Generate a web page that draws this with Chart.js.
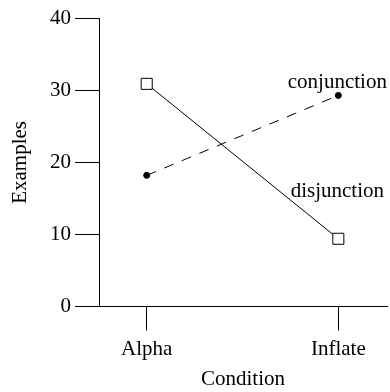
<!DOCTYPE html>
<html>
<head>
<meta charset="utf-8">
<script src="https://cdn.jsdelivr.net/npm/chart.js@4/dist/chart.umd.min.js"></script>
<style>
  html, body { margin: 0; padding: 0; background: #fff; }
  #wrap { width: 390px; height: 392px; }
</style>
</head>
<body>
<div id="wrap"><canvas id="c" width="390" height="392"></canvas></div>
<script>
const categories = ['Alpha', 'Inflate'];
const disjunction = [30.9, 9.4];
const conjunction = [18.2, 29.3];
const yTicks = [0, 10, 20, 30, 40];

const FONT = { family: '"Liberation Serif", "Times New Roman", serif', size: 21 };

const toPoints = arr => arr.map((v, i) => ({ x: i, y: v }));

const lineLabels = {
  id: 'lineLabels',
  afterDatasetsDraw(chart, args, opts) {
    const ctx = chart.ctx;
    ctx.save();
    ctx.font = `${FONT.size}px ${FONT.family}`;
    ctx.fillStyle = '#000';
    ctx.textAlign = 'center';
    ctx.textBaseline = 'alphabetic';
    chart.data.datasets.forEach((ds, i) => {
      const meta = chart.getDatasetMeta(i);
      const last = meta.data[meta.data.length - 1];
      const off = opts.offsets[ds.label] || 0;
      ctx.fillText(ds.label, last.x - 1, last.y + off);
    });
    ctx.restore();
  }
};

new Chart(document.getElementById('c'), {
  type: 'line',
  data: {
    datasets: [
      {
        label: 'disjunction',
        data: toPoints(disjunction),
        borderColor: '#000',
        borderWidth: 1,
        pointStyle: 'rect',
        pointRadius: 7.8,
        pointBackgroundColor: '#fff',
        pointBorderColor: '#000',
        pointBorderWidth: 1,
        tension: 0
      },
      {
        label: 'conjunction',
        data: toPoints(conjunction),
        borderColor: '#000',
        borderWidth: 1,
        borderDash: [10, 9],
        pointStyle: 'circle',
        pointRadius: 3,
        pointBackgroundColor: '#000',
        pointBorderColor: '#000',
        pointBorderWidth: 1,
        tension: 0
      }
    ]
  },
  options: {
    responsive: false,
    animation: false,
    layout: { autoPadding: false, padding: { top: 18.3, right: 3, bottom: 0, left: 0 } },
    plugins: {
      legend: { display: false },
      tooltip: { enabled: false },
      lineLabels: { offsets: { conjunction: -7.4, disjunction: -41.6 } }
    },
    scales: {
      x: {
        type: 'linear',
        min: -0.249,
        max: 1.254,
        afterBuildTicks: s => { s.ticks = categories.map((c, i) => ({ value: i })); },
        afterFit: s => { s.height = 85.5; },
        ticks: {
          font: FONT,
          color: '#000',
          padding: 6,
          maxRotation: 0,
          callback: v => categories[v]
        },
        grid: { display: true, drawOnChartArea: false, drawTicks: true, tickLength: 24, color: '#000', lineWidth: 1 },
        border: { display: true, color: '#000', width: 1 },
        title: { display: true, text: 'Condition', font: FONT, color: '#000', padding: { top: 0, bottom: 0 } }
      },
      y: {
        type: 'linear',
        min: 0,
        max: 40,
        afterBuildTicks: s => { s.ticks = yTicks.map(v => ({ value: v })); },
        afterFit: s => { s.width = 99; },
        ticks: { font: FONT, color: '#000', padding: 4 },
        grid: { display: true, drawOnChartArea: false, drawTicks: true, tickLength: 24, color: '#000', lineWidth: 1 },
        border: { display: true, color: '#000', width: 1 },
        title: { display: true, text: 'Examples', font: FONT, color: '#000', padding: { top: 7.5, bottom: 0 } }
      }
    }
  },
  plugins: [lineLabels]
});
</script>
</body>
</html>
